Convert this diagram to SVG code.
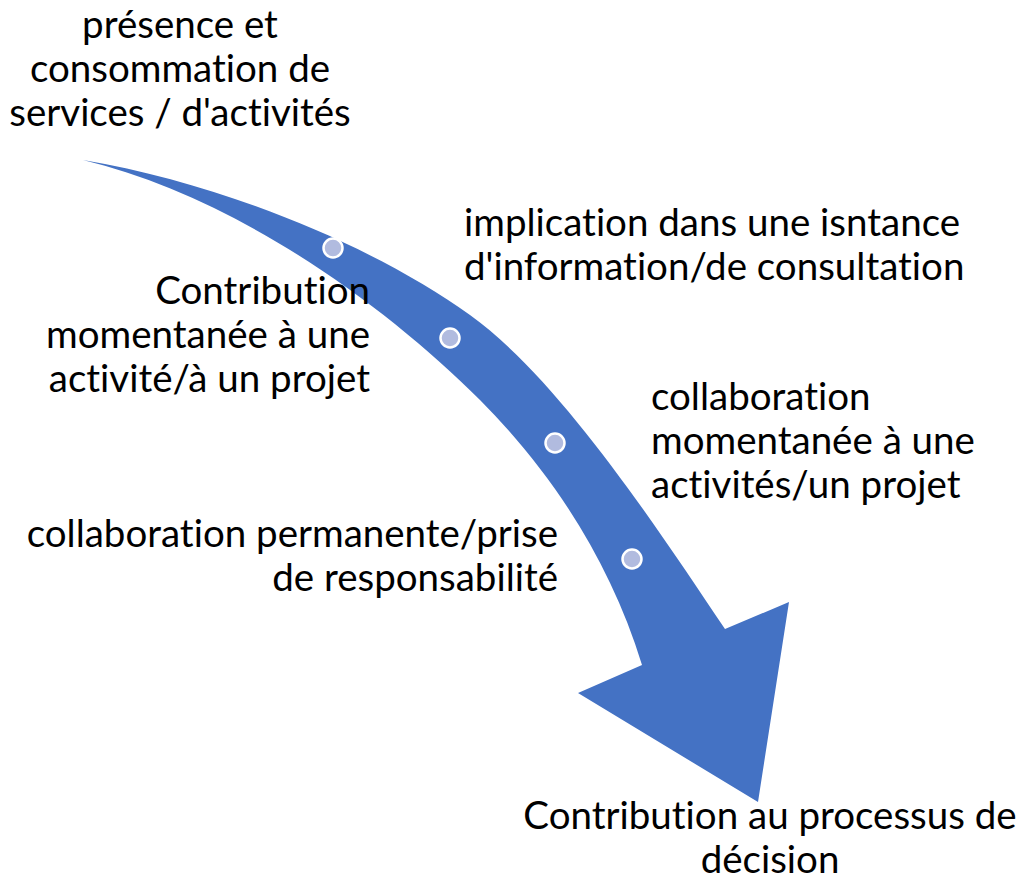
<svg xmlns="http://www.w3.org/2000/svg" width="1019" height="879" viewBox="0 0 1019 879">
<style>
.t{font-family:Lato,"Liberation Sans",sans-serif;font-size:38.5px;fill:#000;font-variant-ligatures:none}
.m{text-anchor:middle}
.e{text-anchor:end}
.dot{fill:#B1BBDF;stroke:#fff;stroke-width:2.5}
</style>
<rect width="1019" height="879" fill="#fff"/>
<g id="connectors">
<path id="arrow" fill="#4472C4" d="M83,160 C230,185 380,250 470,315 C560,380 655,525 725,629 L789,602 L758,802 L578,693 L642,665 C610,560 550,470 480,400 C380,300 230,195 83,160 Z"/>
</g>
<g id="dots">
<circle class="dot" cx="333" cy="248" r="9.5"/>
<circle class="dot" cx="450" cy="338" r="9.5"/>
<circle class="dot" cx="555" cy="443" r="9.5"/>
<circle class="dot" cx="632" cy="559" r="9.5"/>
</g>
<g id="n1"><text class="t m" x="180" y="38">présence et</text><text class="t m" x="180" y="82">consommation de</text><text class="t m" x="180" y="126">services / d'activités</text></g>
<g id="n2"><text class="t e" x="370" y="304">Contribution</text><text class="t e" x="370" y="348">momentanée à une</text><text class="t e" x="370" y="392">activité/à un projet</text></g>
<g id="n3"><text class="t" x="464" y="236">implication dans une isntance</text><text class="t" x="464" y="280">d'information/de consultation</text></g>
<g id="n4"><text class="t" x="651" y="410">collaboration</text><text class="t" x="651" y="454">momentanée à une</text><text class="t" x="651" y="498">activités/un projet</text></g>
<g id="n5"><text class="t e" x="558" y="547">collaboration permanente/prise</text><text class="t e" x="558" y="591">de responsabilité</text></g>
<g id="n6"><text class="t m" x="770" y="829">Contribution au processus de</text><text class="t m" x="770" y="873">décision</text></g>
</svg>
